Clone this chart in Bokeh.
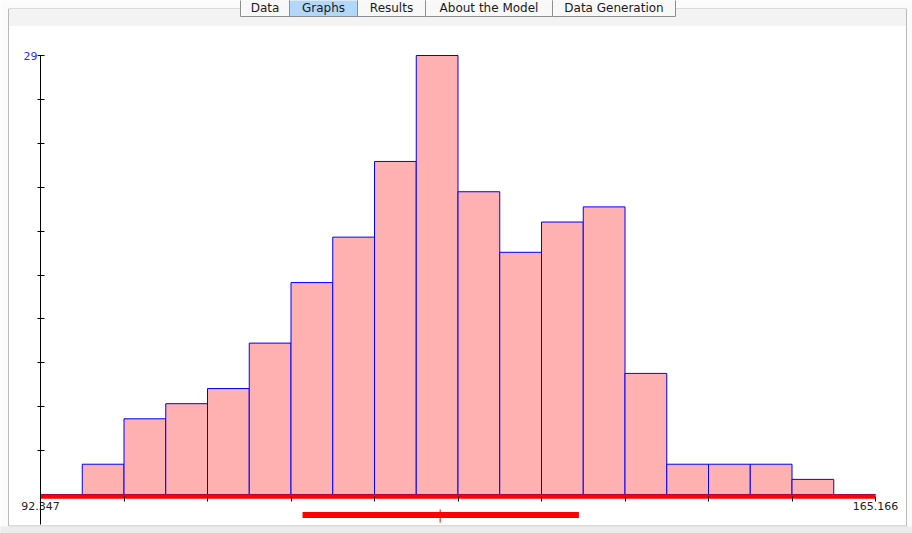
import numpy as np
from bokeh.plotting import figure
from bokeh.models import Range1d, LinearAxis, FixedTicker, PrintfTickFormatter
from bokeh.core.properties import value
from bokeh.embed import file_html
from bokeh.resources import INLINE

# ---------------- data ----------------
x_min = 92.347
x_max = 165.166
bin_counts = [0, 2, 5, 6, 7, 10, 14, 17, 22, 29, 20, 16, 18, 19, 8, 2, 2, 2, 1, 0]
y_max = 29
mean_value = 127.2
interval_low = 115.2
interval_high = 139.3
x_tick_count = 10
y_tick_count = 10
tab_names = ["Data", "Graphs", "Results", "About the Model", "Data Generation"]
selected_tab = "Graphs"

# ---------------- layout (page pixels) ----------------
W, H = 912, 533
PX_XMIN, PX_XMAX = 40, 875
PY_BASE, PY_TOP = 494, 55
tab_edges_px = [240, 289, 357, 425, 552, 675]

ppx = (PX_XMAX - PX_XMIN) / (x_max - x_min)
ppy = (PY_BASE - PY_TOP) / y_max


def X(px):
    return x_min + (px - PX_XMIN) / ppx


def Y(py):
    return (PY_BASE - py) / ppy


FONT_NAME = "DejaVu Sans"
FONT = value(FONT_NAME)

p = figure(width=W, height=H, output_backend="svg", toolbar_location=None,
           x_range=Range1d(X(0), X(W)), y_range=Range1d(Y(H), Y(0)),
           x_axis_location=None, y_axis_location=None, min_border=0)
p.xgrid.visible = False
p.ygrid.visible = False
p.outline_line_color = None
p.background_fill_color = "#fbfbfb"
p.border_fill_color = "#fbfbfb"

# window chrome: panel
p.quad(left=X(8), right=X(906), top=Y(8.5), bottom=Y(525.5), fill_color="white",
       line_color="#b9b9b9", line_width=1)
p.quad(left=X(9), right=X(905), top=Y(9), bottom=Y(25), color="#f3f3f3")
p.quad(left=X(0), right=X(W), top=Y(526.5), bottom=Y(H), color="#ececec")

# tabs
lefts = [X(v) for v in tab_edges_px[:-1]]
rights = [X(v) for v in tab_edges_px[1:]]
fills = ["#b3d7f8" if t == selected_tab else "#f8f8f8" for t in tab_names]
p.quad(left=lefts, right=rights, top=Y(-1), bottom=Y(16), fill_color=fills,
       line_color="#8e8e8e", line_width=1)
p.text(x=[(a + b) / 2 for a, b in zip(lefts, rights)], y=Y(7.5), text=tab_names,
       text_font=FONT, text_font_size="12px", text_align="center",
       text_baseline="middle", text_color="#1a1a1a")

# histogram bars
edges = np.linspace(x_min, x_max, len(bin_counts) + 1)
p.quad(left=edges[:-1], right=edges[1:], top=bin_counts, bottom=0,
       fill_color="#ffb0b0", line_color="#0000ff", line_width=1)

# interval bar + mean marker
p.segment(x0=[interval_low], x1=[interval_high], y0=Y(514.5), y1=Y(514.5),
          line_color="#ff0000", line_width=6)
p.segment(x0=[mean_value], x1=[mean_value], y0=Y(509), y1=Y(522),
          line_color="#ff0000", line_width=1)

# x axis (red baseline)
minor_x = list(np.linspace(x_min, x_max, x_tick_count + 1)[1:-1])
xaxis = LinearAxis(fixed_location=Y(495.6), bounds=(x_min, x_max),
                   ticker=FixedTicker(ticks=[x_min, x_max], minor_ticks=minor_x),
                   formatter=PrintfTickFormatter(format="%.3f"),
                   axis_line_color="#ff0000", axis_line_width=4.6,
                   major_tick_line_color="black", major_tick_out=5, major_tick_in=0,
                   minor_tick_line_color="black", minor_tick_out=5, minor_tick_in=0,
                   major_label_standoff=1, major_label_text_font=FONT_NAME,
                   major_label_text_font_size="11px", major_label_text_color="#222222")
p.add_layout(xaxis, "below")

# y axis
minor_y = [y_max * i / y_tick_count for i in range(1, y_tick_count)]
yaxis = LinearAxis(fixed_location=x_min, bounds=(Y(524), y_max),
                   ticker=FixedTicker(ticks=[y_max], minor_ticks=minor_y),
                   formatter=PrintfTickFormatter(format="%d"),
                   axis_line_color="black", axis_line_width=1,
                   major_tick_line_color="black", major_tick_out=3, major_tick_in=4,
                   minor_tick_line_color="black", minor_tick_out=3, minor_tick_in=4,
                   major_label_standoff=0, major_label_text_font=FONT_NAME,
                   major_label_text_font_size="11px", major_label_text_color="#2a2aff")
p.add_layout(yaxis, "left")

open("out.html", "w").write(file_html(p, INLINE))
